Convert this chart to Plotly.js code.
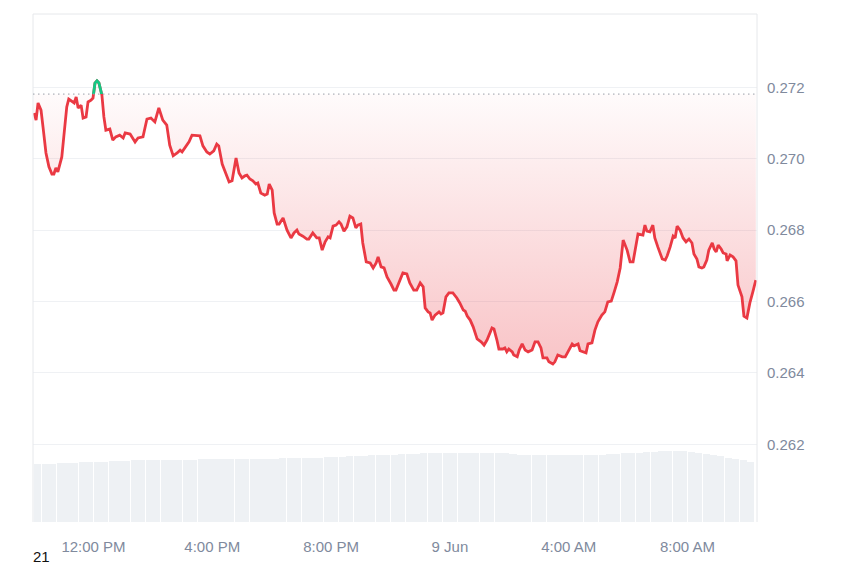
<!DOCTYPE html>
<html>
<head>
<meta charset="utf-8">
<script src="https://cdn.plot.ly/plotly-3.0.1.min.js"></script>
<style>html,body{margin:0;padding:0;background:#fff;}#chart{width:850px;height:567px;}</style>
</head>
<body>
<div id="chart"></div>
<script>
// ---- DATA ----
const day8Times = ["10:00","10:04","10:08","10:14","10:18","10:24","10:30","10:36","10:40","10:44","10:48","10:56","11:00","11:06","11:10","11:17","11:21","11:25","11:29","11:35","11:39","11:45","11:49","11:55","11:59","12:03","12:07","12:11","12:17","12:21","12:25","12:33","12:39","12:45","12:53","13:00","13:04","13:14","13:24","13:30","13:40","13:48","13:56","14:04","14:12","14:20","14:28","14:34","14:41","14:49","14:55","14:59","15:09","15:13","15:19","15:29","15:35","15:41","15:49","15:55","16:03","16:09","16:13","16:20","16:26","16:34","16:40","16:48","16:54","17:00","17:06","17:10","17:16","17:22","17:28","17:32","17:38","17:46","17:51","17:55","18:01","18:05","18:11","18:15","18:23","18:31","18:39","18:45","18:51","18:55","19:03","19:11","19:15","19:23","19:31","19:36","19:42","19:48","19:54","19:58","20:04","20:10","20:16","20:20","20:26","20:32","20:38","20:44","20:50","20:54","21:00","21:04","21:11","21:19","21:25","21:31","21:35","21:41","21:47","21:53","22:01","22:07","22:11","22:17","22:25","22:33","22:39","22:47","22:53","23:00","23:06","23:10","23:16","23:20","23:24","23:30","23:38","23:42","23:46","23:52","23:58"];
const day8Prices = [0.27128,0.27108,0.27156,0.27136,0.27089,0.27016,0.26977,0.26957,0.26957,0.26974,0.26963,0.27005,0.27061,0.27145,0.27167,0.27159,0.27156,0.27173,0.27142,0.27150,0.27114,0.27117,0.27159,0.27164,0.27170,0.27212,0.27218,0.27212,0.27178,0.27117,0.27080,0.27083,0.27052,0.27061,0.27066,0.27058,0.27072,0.27069,0.27047,0.27058,0.27061,0.27111,0.27114,0.27103,0.27142,0.27108,0.27094,0.27038,0.27008,0.27016,0.27024,0.27019,0.27041,0.27047,0.27066,0.27066,0.27064,0.27036,0.27019,0.27013,0.27022,0.27041,0.27036,0.26985,0.26963,0.26935,0.26938,0.27002,0.26960,0.26946,0.26952,0.26954,0.26943,0.26938,0.26929,0.26932,0.26904,0.26898,0.26901,0.26929,0.26912,0.26848,0.26817,0.26817,0.26834,0.26800,0.26778,0.26792,0.26800,0.26789,0.26783,0.26775,0.26775,0.26792,0.26778,0.26778,0.26744,0.26767,0.26781,0.26778,0.26811,0.26814,0.26823,0.26817,0.26797,0.26809,0.26839,0.26834,0.26806,0.26814,0.26817,0.26764,0.26711,0.26708,0.26694,0.26708,0.26725,0.26697,0.26694,0.26669,0.26649,0.26632,0.26632,0.26655,0.26680,0.26677,0.26652,0.26632,0.26632,0.26652,0.26641,0.26582,0.26571,0.26568,0.26548,0.26562,0.26571,0.26565,0.26568,0.26613,0.26624];
const day9Times = ["00:06","00:14","00:20","00:27","00:31","00:35","00:41","00:47","00:55","01:03","01:09","01:15","01:25","01:29","01:35","01:39","01:47","01:51","01:55","01:59","02:06","02:09","02:16","02:20","02:26","02:32","02:38","02:46","02:52","02:58","03:04","03:08","03:16","03:20","03:28","03:32","03:38","03:47","03:53","03:59","04:07","04:11","04:19","04:23","04:29","04:35","04:39","04:47","04:53","04:59","05:07","05:13","05:19","05:26","05:32","05:38","05:44","05:50","05:58","06:04","06:10","06:14","06:20","06:30","06:34","06:38","06:44","06:50","06:54","07:00","07:09","07:15","07:19","07:25","07:31","07:35","07:39","07:45","07:51","07:57","08:03","08:09","08:13","08:19","08:23","08:29","08:33","08:39","08:43","08:50","08:54","08:58","09:02","09:08","09:12","09:18","09:20","09:26","09:32","09:38","09:42","09:50","09:54","10:00","10:06","10:12","10:18"];
const day9Prices = [0.26624,0.26610,0.26596,0.26576,0.26573,0.26559,0.26548,0.26529,0.26495,0.26487,0.26478,0.26492,0.26526,0.26523,0.26492,0.26467,0.26467,0.26470,0.26459,0.26467,0.26459,0.26450,0.26445,0.26464,0.26481,0.26464,0.26459,0.26464,0.26487,0.26487,0.26470,0.26442,0.26442,0.26431,0.26425,0.26431,0.26450,0.26445,0.26445,0.26459,0.26481,0.26476,0.26481,0.26462,0.26459,0.26456,0.26481,0.26484,0.26520,0.26543,0.26562,0.26571,0.26599,0.26601,0.26627,0.26655,0.26694,0.26772,0.26744,0.26711,0.26711,0.26744,0.26789,0.26786,0.26814,0.26797,0.26795,0.26814,0.26778,0.26753,0.26719,0.26716,0.26728,0.26753,0.26783,0.26778,0.26811,0.26800,0.26778,0.26767,0.26775,0.26764,0.26733,0.26719,0.26697,0.26694,0.26697,0.26716,0.26744,0.26764,0.26747,0.26739,0.26758,0.26747,0.26736,0.26733,0.26714,0.26730,0.26725,0.26714,0.26646,0.26613,0.26559,0.26554,0.26596,0.26627,0.26660];
const baselinePrice = 0.27181;
// 24h volume (millions), 15-minute bars starting 8 Jun 10:00
const volumes = [231,233,234,236,237,238,239,240,241,242,243,245,246,247,248,248,249,249,250,250,250,250,251,251,252,252,252,252,253,253,254,254,254,255,255,256,256,257,258,260,261,262,264,265,266,267,268,269,270,272,273,274,275,276,276,277,277,277,277,277,277,277,277,276,274,270,268,268,268,267,267,267,268,268,268,269,270,272,274,276,277,278,280,282,284,284,284,284,282,278,273,268,263,258,254,248,240];
const xTickVals = ["2024-06-08 12:00","2024-06-08 16:00","2024-06-08 20:00","2024-06-09 00:00","2024-06-09 04:00","2024-06-09 08:00"];
const xTickText = ["12:00 PM","4:00 PM","8:00 PM","9 Jun","4:00 AM","8:00 AM"];
const yTickVals = [0.262,0.264,0.266,0.268,0.270,0.272];
const yTickText = ["0.262","0.264","0.266","0.268","0.270","0.272"];

// ---- BUILD ----
const times = day8Times.map(t => "2024-06-08 " + t).concat(day9Times.map(t => "2024-06-09 " + t));
const prices = day8Prices.concat(day9Prices);
const volStart = new Date("2024-06-08T10:07:30Z").getTime();
const pad = n => String(n).padStart(2, "0");
const volTimes = volumes.map((v, i) => {
  const d = new Date(volStart + i * 15 * 60000);
  return d.getUTCFullYear() + "-" + pad(d.getUTCMonth() + 1) + "-" + pad(d.getUTCDate()) + " " +
    pad(d.getUTCHours()) + ":" + pad(d.getUTCMinutes()) + ":" + pad(d.getUTCSeconds());
});

const yRange = [0.259824, 0.274053];
const fb = (baselinePrice - yRange[0]) / (yRange[1] - yRange[0]);
const RED = "#ea3943", GREEN = "#16c784", TXT = "#808a9d";
const font = {family: "Liberation Sans, Arial, sans-serif", size: 15, color: TXT};

const traces = [
  {type: "bar", x: volTimes, y: volumes, yaxis: "y2", width: 15 * 60000 * 0.95,
   marker: {color: "#eef1f4", line: {width: 0}}, hoverinfo: "skip"},
  {type: "scatter", mode: "lines", x: times, y: times.map(() => baselinePrice),
   line: {width: 0, color: "rgba(0,0,0,0)"}, hoverinfo: "skip"},
  {type: "scatter", mode: "lines", x: times, y: prices, fill: "tonexty",
   line: {width: 0, color: "rgba(0,0,0,0)"},
   fillgradient: {type: "vertical", start: 0.2642, stop: baselinePrice,
     colorscale: [[0, "rgba(234,57,67,0.30)"], [1, "rgba(234,57,67,0.02)"]]},
   hoverinfo: "skip"},
  {type: "scatter", mode: "lines", x: times, y: prices, line: {color: RED, width: 2.8}},
  {type: "scatter", mode: "lines", x: times, y: prices, yaxis: "y3", line: {color: GREEN, width: 2.8}}
];

const layout = {
  width: 850, height: 567,
  margin: {l: 33, r: 93, t: 14, b: 45},
  paper_bgcolor: "#ffffff", plot_bgcolor: "rgba(0,0,0,0)",
  showlegend: false, font: font,
  bargap: 0,
  xaxis: {type: "date", range: ["2024-06-08 09:57:48", "2024-06-09 10:20:24"],
    tickmode: "array", tickvals: xTickVals, ticktext: xTickText,
    showgrid: false, zeroline: false, showline: false, ticks: "",
    tickfont: font, ticklabelstandoff: 14, anchor: "y"},
  yaxis: {range: yRange, side: "right", tickmode: "array", tickvals: yTickVals, ticktext: yTickText,
    showgrid: true, gridcolor: "#eff1f4", gridwidth: 1, zeroline: false, showline: false, ticks: "",
    tickfont: font, ticklabelstandoff: 9},
  yaxis2: {overlaying: "y", range: [0, 2032], visible: false, showgrid: false},
  yaxis3: {domain: [fb, 1], range: [baselinePrice, yRange[1]], anchor: "x", visible: false, showgrid: false, zeroline: false},
  shapes: [
    {type: "line", xref: "paper", yref: "paper", x0: 0, x1: 1, y0: 1, y1: 1, line: {color: "#e6e8eb", width: 1}},
    {type: "line", xref: "paper", yref: "paper", x0: 0, x1: 0, y0: 0, y1: 1, line: {color: "#e6e8eb", width: 1}},
    {type: "line", xref: "paper", yref: "paper", x0: 1, x1: 1, y0: 0, y1: 1, line: {color: "#e6e8eb", width: 1}},
    {type: "line", xref: "paper", yref: "y", x0: 0, x1: 1, y0: baselinePrice, y1: baselinePrice,
     line: {color: "#9a9fa8", width: 1, dash: "1.5px,3.5px"}}
  ],
  annotations: [
    {text: "21", xref: "paper", yref: "paper", x: 0.0124, y: -0.068, xanchor: "center", yanchor: "middle",
     showarrow: false, font: {family: "Liberation Sans, Arial, sans-serif", size: 15, color: "#111111"}}
  ]
};

Plotly.newPlot("chart", traces, layout, {staticPlot: true, displayModeBar: false});
</script>
</body>
</html>
